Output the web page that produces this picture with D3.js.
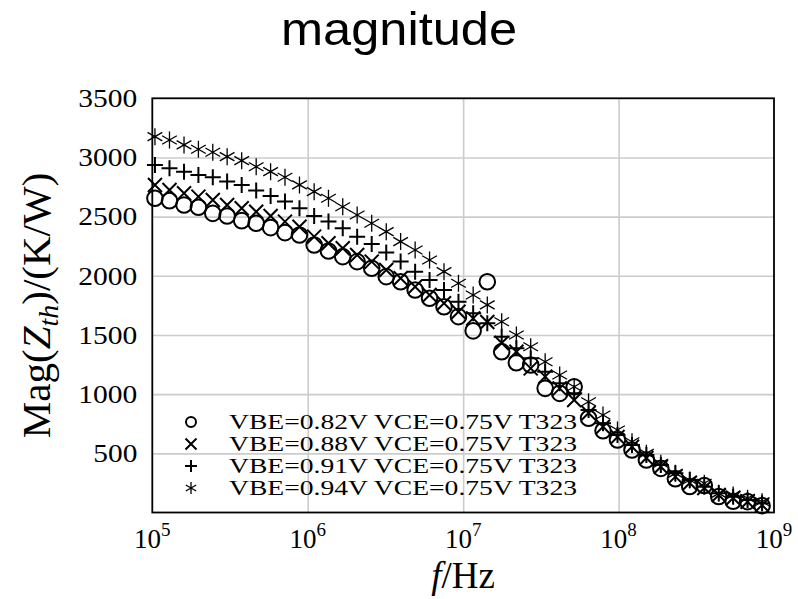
<!DOCTYPE html>
<html>
<head>
<meta charset="utf-8">
<script src="https://cdn.jsdelivr.net/npm/d3@7"></script>
<style>
  body { margin: 0; background: #fff; }
  svg { display: block; }
</style>
</head>
<body>
<svg id="main-chart"></svg>
<script>
// frequency points (Hz), shared by all four series
const freqs = [1.04e5,1.29e5,1.60e5,1.98e5,2.45e5,3.03e5,3.76e5,4.66e5,5.77e5,7.14e5,8.85e5,
  1.10e6,1.36e6,1.68e6,2.08e6,2.58e6,3.20e6,3.96e6,4.91e6,6.08e6,7.53e6,9.33e6,
  1.16e7,1.43e7,1.77e7,2.20e7,2.72e7,3.37e7,4.18e7,5.18e7,6.41e7,7.94e7,9.84e7,
  1.22e8,1.51e8,1.87e8,2.32e8,2.87e8,3.56e8,4.41e8,5.46e8,6.76e8,8.38e8];

const vbe082 = [2655,2635,2599,2579,2528,2506,2466,2444,2407,2365,2345,
  2261,2210,2162,2120,2064,1993,1950,1880,1810,1739,1655,
  1535,1950,1359,1266,1247,1049,1007,1063,796,691,613,528,444,373,286,220,228,135,95,92,58];
const vbe088 = [2768,2725,2697,2669,2641,2599,2571,2542,2506,2458,2415,
  2331,2275,2233,2176,2120,2049,1979,1908,1838,1768,1697,
  1640,1610,1432,1359,1218,1148,1049,951,841,725,638,556,460,387,303,249,207,148,122,91,63];
const vbe091 = [2937,2909,2880,2852,2833,2796,2768,2720,2675,2627,2571,
  2506,2458,2402,2331,2269,2196,2120,2035,1965,1880,1781,
  1683,1600,1486,1388,1303,1190,1092,1007,866,754,655,570,486,401,331,275,218,162,134,106,78];
const vbe094 = [3176,3148,3106,3069,3044,3007,2973,2922,2880,2833,2768,
  2711,2655,2584,2514,2444,2373,2289,2218,2134,2035,1937,
  1838,1754,1612,1500,1401,1274,1162,1063,936,824,697,598,500,416,331,275,247,162,148,120,91];

const seriesNames = ["VBE=0.82V VCE=0.75V T323","VBE=0.88V VCE=0.75V T323",
  "VBE=0.91V VCE=0.75V T323","VBE=0.94V VCE=0.75V T323"];
const seriesMarks = ["circle","x","plus","star"];
const seriesValues = [vbe082, vbe088, vbe091, vbe094];

const xTicks = [1e5, 1e6, 1e7, 1e8, 1e9];
const xExps = [5, 6, 7, 8, 9];
const yTicks = [500,1000,1500,2000,2500,3000,3500];

const W = 798, H = 599;
const margin = { top: 98.3, right: 24, bottom: 86.5, left: 152.3 };
const chartWidth = W - margin.left - margin.right;
const chartHeight = H - margin.top - margin.bottom;
const serif = "'Liberation Serif', 'DejaVu Serif', serif";

const root = d3.select("#main-chart").attr("width", W).attr("height", H);

root.append("text")
  .attr("x", 399).attr("y", 45)
  .attr("text-anchor", "middle")
  .attr("textLength", 236).attr("lengthAdjust", "spacingAndGlyphs")
  .style("font-family", "'Liberation Sans', Arial, sans-serif")
  .style("font-size", "47px")
  .text("magnitude");

const svg = root.append("g").attr("transform", `translate(${margin.left},${margin.top})`);

const xScale = d3.scaleLog().domain([1e5, 1e9]).range([0, chartWidth]);
const yScale = d3.scaleLinear().domain([0, 3500]).range([chartHeight, 0]);

// grid
svg.append("g")
  .attr("transform", `translate(0,${chartHeight})`)
  .call(d3.axisBottom(xScale).tickValues([1e6,1e7,1e8]).tickSize(-chartHeight).tickFormat(""))
  .call(g => g.select(".domain").remove())
  .call(g => g.selectAll("line").attr("stroke", "#cccccc").attr("stroke-width", 1.6));
svg.append("g")
  .call(d3.axisLeft(yScale).tickValues(yTicks.slice(0, -1)).tickSize(-chartWidth).tickFormat(""))
  .call(g => g.select(".domain").remove())
  .call(g => g.selectAll("line").attr("stroke", "#cccccc").attr("stroke-width", 1.6));

// y tick labels
svg.append("g")
  .call(d3.axisLeft(yScale).tickValues(yTicks).tickSize(0).tickPadding(15).tickFormat(d3.format("d")))
  .call(g => g.select(".domain").remove())
  .call(g => g.selectAll("text")
    .attr("textLength", d => d >= 1000 ? 59 : 44).attr("lengthAdjust", "spacingAndGlyphs")
    .style("font-family", serif).style("font-size", "26px").attr("fill", "#000"));

// x tick labels 10^n
const xl = svg.append("g");
xTicks.forEach((v, i) => {
  const t = xl.append("text")
    .attr("x", xScale(v)).attr("y", chartHeight + 35.5)
    .attr("text-anchor", "middle")
    .style("font-family", serif).style("font-size", "27px");
  t.append("tspan").text("10");
  t.append("tspan").attr("dy", -12).style("font-size", "19px").text(xExps[i]);
});

// axis titles
const xt = svg.append("text")
  .attr("x", xScale(1e7)).attr("y", chartHeight + 75.5)
  .attr("text-anchor", "middle")
  .style("font-family", serif).style("font-size", "37px");
xt.append("tspan").style("font-style", "italic").text("f");
xt.append("tspan").text("/Hz");

const yt = svg.append("text")
  .attr("transform", `translate(${50 - margin.left},${chartHeight / 2}) rotate(-90)`)
  .attr("text-anchor", "middle")
  .style("font-family", serif).style("font-size", "41px");
yt.append("tspan").text("Mag(");
yt.append("tspan").style("font-style", "italic").text("Z");
yt.append("tspan").attr("dy", 8).style("font-size", "28px").style("font-style", "italic").text("th");
yt.append("tspan").attr("dy", -8).text(")/(K/W)");

// marker shapes
function markPath(type, s) {
  if (type === "x") return `M${-s},${-s}L${s},${s}M${-s},${s}L${s},${-s}`;
  if (type === "plus") return `M${-s},0L${s},0M0,${-s}L0,${s}`;
  const a = s * Math.cos(Math.PI / 6), b = s * Math.sin(Math.PI / 6);
  return `M0,${-s}L0,${s}M${-a},${-b}L${a},${b}M${-a},${b}L${a},${-b}`;
}
function drawMark(g, type, size) {
  if (type === "circle") {
    g.append("circle").attr("r", size).attr("fill", "none").attr("stroke", "#000").attr("stroke-width", 2);
  } else {
    g.append("path").attr("d", markPath(type, size)).attr("fill", "none").attr("stroke", "#000")
      .attr("stroke-width", type === "star" ? 1.3 : 2);
  }
}
const markSize = { circle: 7.8, x: 7, plus: 8, star: 8.5 };
const legendSize = { circle: 5, x: 5.5, plus: 6, star: 6 };

// legend (no background, sits under the data)
const legend = svg.append("g");
seriesNames.forEach((name, i) => {
  const yPos = 422 - margin.top + i * 22;
  const m = legend.append("g").attr("transform", `translate(${191 - margin.left},${yPos})`);
  drawMark(m, seriesMarks[i], legendSize[seriesMarks[i]]);
  legend.append("text")
    .attr("x", 229 - margin.left).attr("y", yPos)
    .attr("dy", "0.35em")
    .attr("textLength", 348).attr("lengthAdjust", "spacingAndGlyphs")
    .style("font-family", serif).style("font-size", "21px")
    .text(name);
});

// data markers
seriesValues.forEach((vals, si) => {
  const type = seriesMarks[si];
  const g = svg.append("g");
  vals.forEach((v, i) => {
    const m = g.append("g").attr("transform", `translate(${xScale(freqs[i])},${yScale(v)})`);
    drawMark(m, type, markSize[type]);
  });
});

// frame
svg.append("rect")
  .attr("width", chartWidth).attr("height", chartHeight)
  .attr("fill", "none").attr("stroke", "#000").attr("stroke-width", 1.8);
</script>
</body>
</html>
